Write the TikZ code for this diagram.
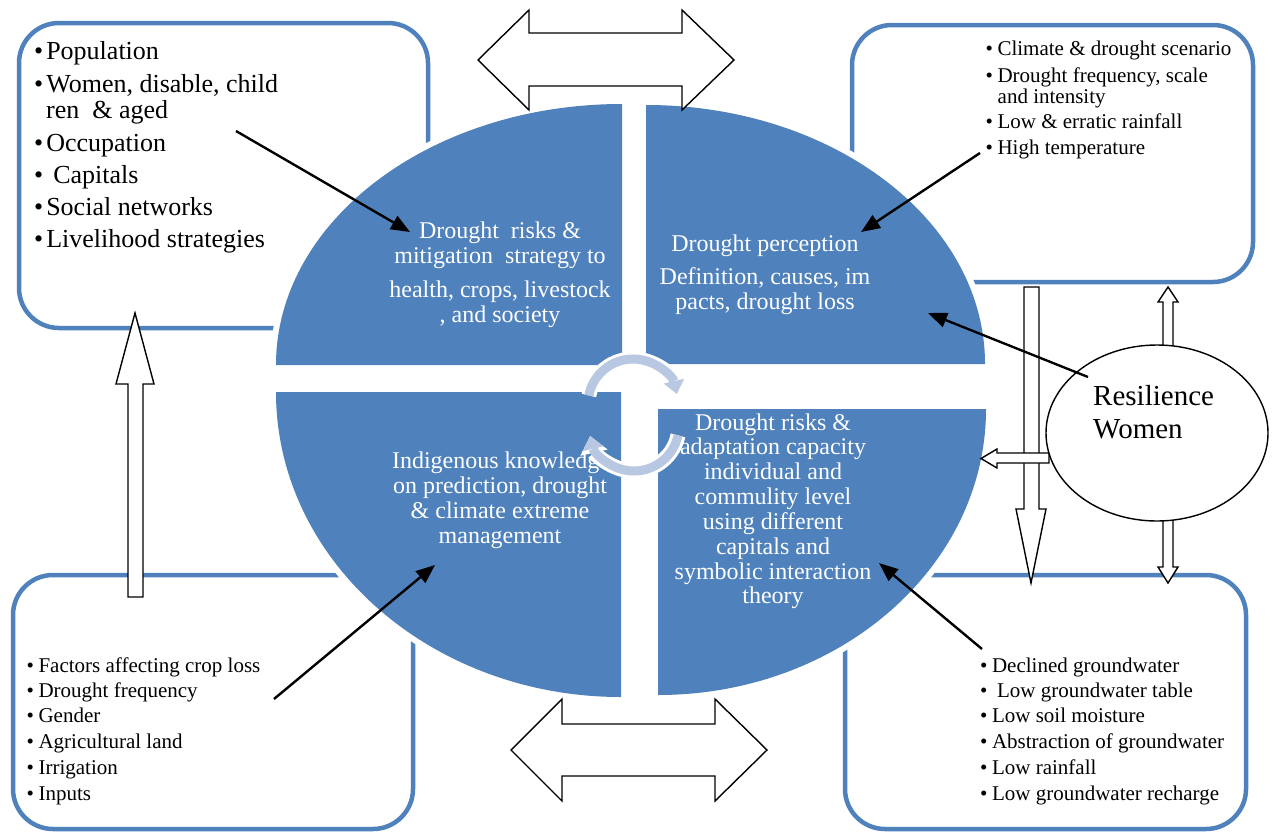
\documentclass[tikz,border=0pt]{standalone}
\usepackage{fontspec}
\setmainfont{Liberation Serif}
\usetikzlibrary{arrows.meta,calc}
\definecolor{qblue}{RGB}{79,129,189}
\definecolor{cycblue}{RGB}{185,200,226}
\begin{document}
\begin{tikzpicture}[x=1pt,y=-1pt,
  frame/.style={draw=qblue, line width=4.5pt, rounded corners=40pt},
  hollow/.style={draw=black, fill=white, line width=1.4pt, line join=miter},
  piece/.style={fill=qblue, preaction={draw=white, line width=12pt, line join=round}},
  ptext/.style={text=white, anchor=base, inner sep=0pt, font=\fontsize{24}{25}\selectfont},
  bigitem/.style={anchor=base west, inner sep=0pt, font=\fontsize{26}{30}\selectfont},
  smitem/.style={anchor=base west, inner sep=0pt, font=\fontsize{21}{25}\selectfont},
  pointer/.style={draw=black, line width=2.4pt, -{Triangle[length=19pt,width=15pt]}},
  cycgap/.style={draw=white, line width=15pt, -{Triangle[length=17pt,width=28pt,line width=0pt]}},
  cyc/.style={draw=cycblue, line width=9pt, -{Triangle[length=13pt,width=21pt,line width=0pt]}}
]
\useasboundingbox (0,0) rectangle (1274,833);

% ---- outer boxes
\draw[frame] (19,23) rectangle (428,328);
\draw[frame] (852,25) rectangle (1253,282);
\draw[frame] (13,575) rectangle (413,829);
\draw[frame] (845,575) rectangle (1246,829);

% ---- top-left box text
\node[bigitem] (tl1) at (34,59) {\textbullet\hspace{3pt}Population};
\node[bigitem] (tl2) at (34,92) {\textbullet\hspace{3pt}Women, disable, child};
\node[bigitem] (tl2b) at (46,118) {ren\ \ \& aged};
\node[bigitem] (tl3) at (34,151) {\textbullet\hspace{3pt}Occupation};
\node[bigitem] (tl4) at (34,183) {\textbullet\hspace{10pt}Capitals};
\node[bigitem] (tl5) at (34,215) {\textbullet\hspace{3pt}Social networks};
\node[bigitem] (tl6) at (34,247) {\textbullet\hspace{3pt}Livelihood strategies};

% ---- top-right box text
\node[smitem] (tr1) at (985.5,55) {\textbullet\hspace{4.5pt}Climate \& drought scenario};
\node[smitem] (tr2) at (985.5,82) {\textbullet\hspace{4.5pt}Drought frequency, scale};
\node[smitem] (tr2b) at (997.5,103) {and intensity};
\node[smitem] (tr3) at (985.5,128) {\textbullet\hspace{4.5pt}Low \& erratic rainfall};
\node[smitem] (tr4) at (985.5,154) {\textbullet\hspace{4.5pt}High temperature};

% ---- bottom-left box text
\node[smitem] (bl1) at (26.5,672) {\textbullet\hspace{4.5pt}Factors affecting crop loss};
\node[smitem] (bl2) at (26.5,697) {\textbullet\hspace{4.5pt}Drought frequency};
\node[smitem] (bl3) at (26.5,722) {\textbullet\hspace{4.5pt}Gender};
\node[smitem] (bl4) at (26.5,748) {\textbullet\hspace{4.5pt}Agricultural land};
\node[smitem] (bl5) at (26.5,774) {\textbullet\hspace{4.5pt}Irrigation};
\node[smitem] (bl6) at (26.5,800) {\textbullet\hspace{4.5pt}Inputs};

% ---- bottom-right box text
\node[smitem] (br1) at (980,672) {\textbullet\hspace{4.5pt}Declined groundwater};
\node[smitem] (br2) at (980,697) {\textbullet\hspace{9.5pt}Low groundwater table};
\node[smitem] (br3) at (980,722) {\textbullet\hspace{4.5pt}Low soil moisture};
\node[smitem] (br4) at (980,748) {\textbullet\hspace{4.5pt}Abstraction of groundwater};
\node[smitem] (br5) at (980,774) {\textbullet\hspace{4.5pt}Low rainfall};
\node[smitem] (br6) at (980,800) {\textbullet\hspace{4.5pt}Low groundwater recharge};

% ---- vertical arrow on the left
\draw[hollow] (135,313) -- (154,384) -- (143,384) -- (143,597) -- (128,597) -- (128,384) -- (116,384) -- cycle;

% ---- long down arrow on the right
\draw[hollow] (1024,287) -- (1039,287) -- (1039,509) -- (1046,509) -- (1031,583) -- (1016,509) -- (1024,509) -- cycle;

% ---- quadrants
\path[piece] (622,365) -- (276,365) arc[start angle=180, end angle=270, x radius=346, y radius=261] -- cycle;
\path[piece] (646,364) -- (646,105) arc[start angle=270, end angle=360, x radius=339, y radius=259] -- cycle;
\path[piece] (658,409) -- (986,409) arc[start angle=0, end angle=90, x radius=328, y radius=286] -- cycle;
\path[piece] (621,392) -- (621,697) arc[start angle=90, end angle=180, x radius=345, y radius=305] -- cycle;

% ---- quadrant texts
\node[ptext] (q1a) at (500,238) {Drought\ \ risks \&};
\node[ptext] (q1b) at (500,263) {mitigation\ \ strategy to};
\node[ptext] (q1c) at (500,297) {health, crops, livestock};
\node[ptext] (q1d) at (500,322) {, and society};

\node[ptext] (q2a) at (765,251) {Drought perception};
\node[ptext] (q2b) at (765,284) {Definition, causes, im};
\node[ptext] (q2c) at (765,309) {pacts, drought loss};

\node[ptext] (q3a) at (501,468) {Indigenous knowledge};
\node[ptext] (q3b) at (500,493) {on prediction, drought};
\node[ptext] (q3c) at (500,518) {\& climate extreme};
\node[ptext] (q3d) at (500,543) {management};

\node[ptext] (q4a) at (773,430) {Drought risks \&};
\node[ptext] (q4b) at (773,454) {adaptation capacity};
\node[ptext] (q4c) at (773,479) {individual and};
\node[ptext] (q4d) at (773,504) {commulity level};
\node[ptext] (q4e) at (773,529) {using different};
\node[ptext] (q4f) at (773,554) {capitals and};
\node[ptext] (q4g) at (773,579) {symbolic interaction};
\node[ptext] (q4h) at (773,603) {theory};

% ---- circular arrows in the centre
\coordinate (c1) at (633,404);
\coordinate (c2) at (634,426);
\draw[cycgap] ($(c1)+(191:45)$) arc[start angle=191, end angle=347, radius=45];
\draw[cyc] ($(c1)+(191:45)$) arc[start angle=191, end angle=347, radius=45];
\draw[cycgap] ($(c2)+(12:45)$) arc[start angle=12, end angle=167, radius=45];
\draw[cyc] ($(c2)+(12:45)$) arc[start angle=12, end angle=167, radius=45];

% ---- double arrows top and bottom
\draw[hollow] (478,60) -- (529,10) -- (529,33) -- (682,33) -- (682,10) -- (734,60) -- (682,110) -- (682,86) -- (529,86) -- (529,110) -- cycle;
\draw[hollow] (511,750) -- (562,699) -- (562,724) -- (715,724) -- (715,699) -- (767,750) -- (715,801) -- (715,776) -- (562,776) -- (562,801) -- cycle;

% ---- small arrows round the ellipse
\draw[hollow] (1163,352) -- (1163,302) -- (1158,302) -- (1168,287) -- (1178,302) -- (1173,302) -- (1173,352) -- cycle;
\draw[hollow] (1163,514) -- (1163,567) -- (1158,567) -- (1168,583) -- (1178,567) -- (1173,567) -- (1173,514) -- cycle;
\draw[hollow] (1049,453) -- (997,453) -- (997,449) -- (981,458.5) -- (997,468) -- (997,463) -- (1049,463) -- cycle;

% ---- resilience ellipse
\draw[black, line width=1.4pt, fill=white] (1157,433) ellipse [x radius=111, y radius=88];
\node[anchor=base west, inner sep=0pt, align=left, font=\fontsize{29}{33}\selectfont] (res) at (1093,438) {Resilience\\Women};

% ---- pointer arrows
\coordinate (p1s) at (236,131); \coordinate (p1e) at (410,232);
\coordinate (p2s) at (980,153); \coordinate (p2e) at (861,232);
\coordinate (p3s) at (1088,377); \coordinate (p3e) at (928,313);
\coordinate (p4s) at (274,699); \coordinate (p4e) at (435,565);
\coordinate (p5s) at (982,649); \coordinate (p5e) at (879,563);
\draw[pointer] (p1s) -- (p1e);
\draw[pointer] (p2s) -- (p2e);
\draw[pointer] (p3s) -- (p3e);
\draw[pointer] (p4s) -- (p4e);
\draw[pointer] (p5s) -- (p5e);
\end{tikzpicture}
\end{document}
